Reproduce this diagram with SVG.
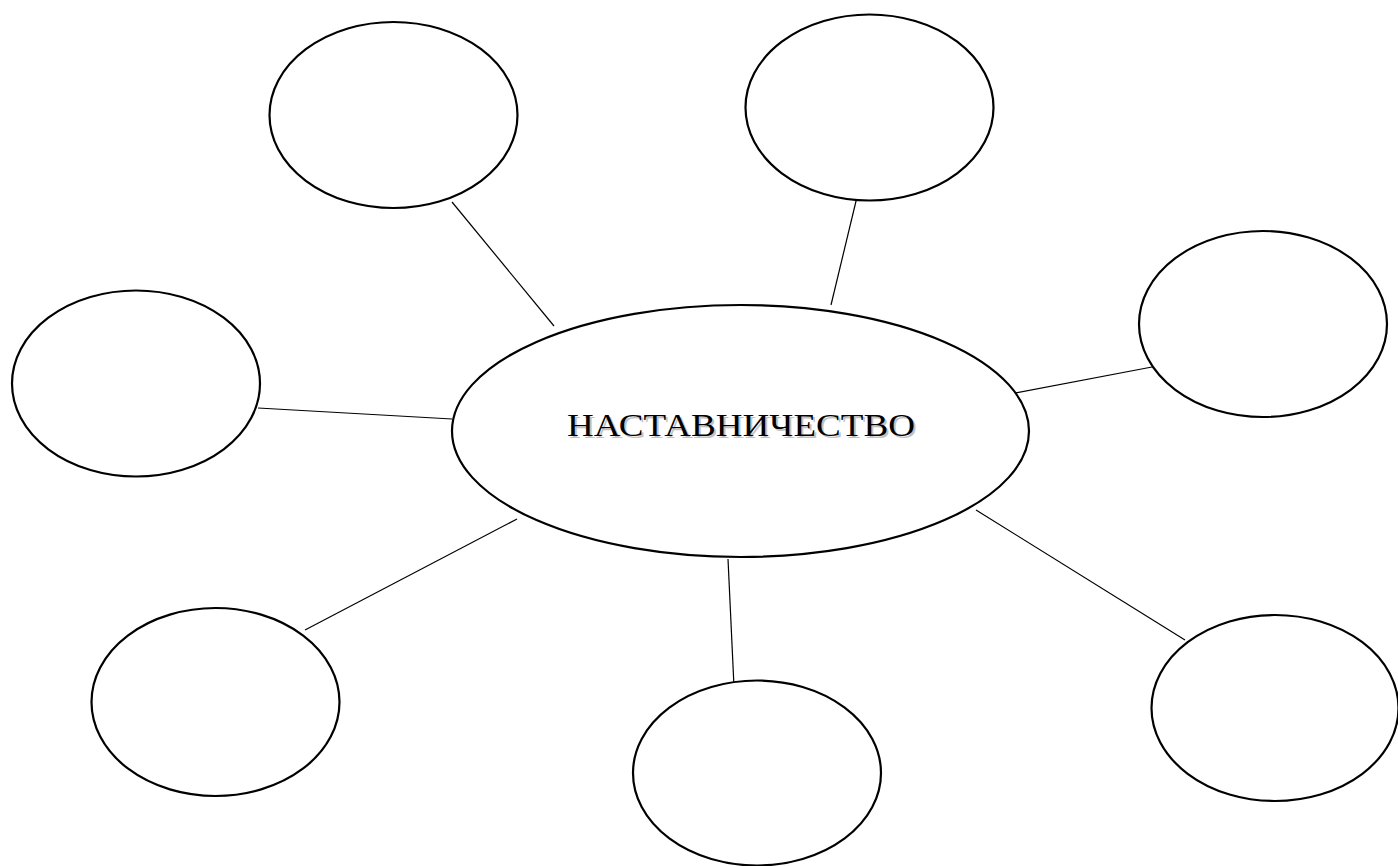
<svg xmlns="http://www.w3.org/2000/svg" width="1398" height="866" viewBox="0 0 1398 866">
<style>
.node{fill:#fff;stroke:#000;stroke-width:2.2}
.conn line{stroke:#000;stroke-width:1.2}
.lbl{font-family:"Liberation Serif","Times New Roman",serif;font-size:31px;text-anchor:middle}
</style>
<rect width="1398" height="866" fill="#fff"/>
<g id="connectors" class="conn">
<line x1="452" y1="202" x2="554" y2="326"/>
<line x1="857" y1="197" x2="831" y2="305"/>
<line x1="1015" y1="393" x2="1152" y2="367"/>
<line x1="258" y1="408" x2="452" y2="419"/>
<line x1="305" y1="630" x2="517" y2="519"/>
<line x1="728" y1="559" x2="734" y2="687"/>
<line x1="976" y1="510" x2="1185" y2="640"/>
</g>
<g id="center">
<ellipse class="node" cx="740.5" cy="431" rx="288.5" ry="126"/>
<text class="lbl" x="743" y="438" fill="#9a9a9a" opacity="0.6" textLength="348" lengthAdjust="spacingAndGlyphs">НАСТАВНИЧЕСТВО</text>
<text class="lbl" x="741" y="436" fill="#000" textLength="348" lengthAdjust="spacingAndGlyphs">НАСТАВНИЧЕСТВО</text>
</g>
<g id="n-top-left"><ellipse class="node" cx="393.5" cy="115" rx="124" ry="93"/></g>
<g id="n-top-right"><ellipse class="node" cx="869.5" cy="107.5" rx="124" ry="93"/></g>
<g id="n-right"><ellipse class="node" cx="1263" cy="324" rx="124" ry="93"/></g>
<g id="n-left"><ellipse class="node" cx="136" cy="383.5" rx="124" ry="93"/></g>
<g id="n-bottom-left"><ellipse class="node" cx="215.5" cy="702" rx="124" ry="94"/></g>
<g id="n-bottom-middle"><ellipse class="node" cx="757" cy="773" rx="124" ry="92.5"/></g>
<g id="n-bottom-right"><ellipse class="node" cx="1275" cy="708" rx="123.5" ry="93"/></g>
</svg>
